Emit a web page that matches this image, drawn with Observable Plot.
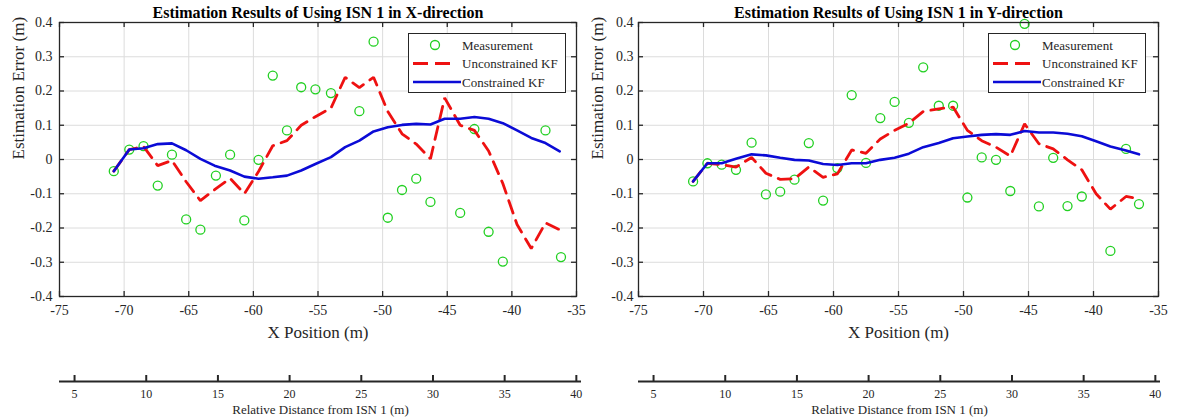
<!DOCTYPE html>
<html>
<head>
<meta charset="utf-8">
<script src="https://cdn.jsdelivr.net/npm/d3@7"></script>
<script src="https://cdn.jsdelivr.net/npm/@observablehq/plot@0.6"></script>
<style>
  html, body { margin: 0; padding: 0; background: #fff; }
  #root { position: relative; width: 1178px; height: 419px; overflow: hidden; font-family: "Liberation Serif", "Times New Roman", serif; }
  #root svg, #root svg text, #root svg g { font-family: "Liberation Serif", "Times New Roman", serif !important; }
  .panel { position: absolute; top: 0; width: 589px; height: 419px; }
  .panel svg { display: block; }
  .legend { position: absolute; }
</style>
</head>
<body>
<div id="root"></div>
<script>
// ---------- tick labels ----------
const xTicks = [-75, -70, -65, -60, -55, -50, -45, -40, -35];
const yTicks = [-0.4, -0.3, -0.2, -0.1, 0, 0.1, 0.2, 0.3, 0.4];
const distTicks = [5, 10, 15, 20, 25, 30, 35, 40];
const seriesNames = ["Measurement", "Unconstrained KF", "Constrained KF"];

// ---------- X-direction panel ----------
const measPosX = [-70.8, -69.6, -68.5, -67.4, -66.3, -65.2, -64.1, -62.9, -61.8, -60.7, -59.6, -58.5, -57.4, -56.3,
  -55.2, -54.0, -51.8, -50.7, -49.6, -48.5, -47.4, -46.3, -44.0, -42.9, -41.8, -40.7, -37.4, -36.2];
const measErrX = [-0.034, 0.029, 0.039, -0.076, 0.014, -0.175, -0.205, -0.047, 0.014, -0.178, -0.001, 0.245, 0.085, 0.211,
  0.205, 0.194, 0.141, 0.344, -0.170, -0.089, -0.056, -0.124, -0.156, 0.089, -0.211, -0.298, 0.085, -0.285];
const kfPosX = [-70.8, -69.6, -68.5, -67.4, -66.3, -65.2, -64.1, -63.0, -61.8, -60.7, -59.6, -58.5, -57.4, -56.3, -55.2, -54.0,
  -52.9, -51.8, -50.7, -49.6, -48.5, -47.4, -46.3, -45.2, -44.0, -42.9, -41.8, -40.7, -39.6, -38.5, -37.4, -36.3];
const uncErrX = [-0.034, 0.029, 0.038, -0.018, -0.003, -0.065, -0.12, -0.088, -0.055, -0.10, -0.035, 0.04, 0.055, 0.10, 0.125, 0.15,
  0.24, 0.21, 0.24, 0.14, 0.075, 0.045, 0.002, 0.18, 0.10, 0.085, 0.025, -0.07, -0.19, -0.26, -0.185, -0.205];
const conErrX = [-0.034, 0.029, 0.033, 0.045, 0.047, 0.027, 0.002, -0.018, -0.032, -0.050, -0.056, -0.052, -0.047, -0.032, -0.013, 0.007,
  0.036, 0.055, 0.082, 0.094, 0.101, 0.104, 0.102, 0.119, 0.119, 0.124, 0.119, 0.106, 0.085, 0.063, 0.048, 0.024];

// ---------- Y-direction panel ----------
const measPosY = [-70.8, -69.7, -68.6, -67.5, -66.3, -65.2, -64.1, -63.0, -61.9, -60.8, -59.7, -58.6, -57.5, -56.4, -55.3, -54.2,
  -53.1, -51.9, -50.8, -49.7, -48.6, -47.5, -46.4, -45.3, -44.2, -43.1, -42.0, -40.9, -38.7, -37.5, -36.5];
const measErrY = [-0.064, -0.011, -0.015, -0.030, 0.049, -0.102, -0.094, -0.059, 0.048, -0.120, -0.025, 0.188, -0.010, 0.121, 0.168, 0.107,
  0.269, 0.157, 0.157, -0.111, 0.006, -0.001, -0.092, 0.396, -0.137, 0.005, -0.136, -0.108, -0.267, 0.031, -0.130];
const kfPosY = [-70.8, -69.7, -68.6, -67.5, -66.3, -65.2, -64.1, -63.0, -61.9, -60.8, -59.7, -58.6, -57.5, -56.4, -55.3, -54.2,
  -53.1, -51.9, -50.8, -49.7, -48.6, -47.5, -46.4, -45.3, -44.2, -43.1, -42.0, -40.9, -39.8, -38.7, -37.5, -36.5];
const uncErrY = [-0.064, -0.011, -0.015, -0.022, 0.006, -0.04, -0.058, -0.056, -0.022, -0.052, -0.042, 0.028, 0.018, 0.06, 0.085, 0.106,
  0.14, 0.148, 0.153, 0.085, 0.055, 0.036, 0.01, 0.104, 0.046, 0.031, -0.001, -0.03, -0.10, -0.145, -0.108, -0.115];
const conErrY = [-0.064, -0.011, -0.011, 0.002, 0.015, 0.012, 0.005, -0.001, -0.003, -0.013, -0.016, -0.011, -0.011, -0.001, 0.005, 0.017,
  0.036, 0.048, 0.062, 0.067, 0.072, 0.074, 0.072, 0.083, 0.079, 0.079, 0.075, 0.068, 0.053, 0.038, 0.026, 0.015];

const titles = ["Estimation Results of Using ISN 1 in X-direction", "Estimation Results of Using ISN 1 in Y-direction"];
const xLabel = "X Position (m)";
const yLabel = "Estimation Error (m)";
const distLabel = "Relative Distance from ISN 1 (m)";
const distDomain = [3.95, 40.36];

const C = { green: "#22d022", red: "#ee1111", blue: "#0b0bd6", axis: "#262626", grid: "#dcdcdc" };
const FONT = "Liberation Serif";
const fmtY = d => d === 0 ? "0" : d.toFixed(1);

function makePanel(cfg) {
  const W = 589, H = 345, mTop = 22, mBottom = 49;
  const fw = W - cfg.mLeft - cfg.mRight, fh = H - mTop - mBottom;
  const meas = cfg.mPos.map((x, i) => ({x, y: cfg.mErr[i]}));
  const unc = cfg.kPos.map((x, i) => ({x, y: cfg.unc[i]}));
  const con = cfg.kPos.map((x, i) => ({x, y: cfg.con[i]}));

  const main = Plot.plot({
    width: W, height: H,
    marginLeft: cfg.mLeft, marginRight: cfg.mRight, marginTop: mTop, marginBottom: mBottom,
    style: { fontFamily: FONT, fontSize: "14px", color: C.axis, background: "transparent" },
    x: { domain: [-75, -35] },
    y: { domain: [-0.4, 0.4] },
    marks: [
      Plot.gridX(xTicks, { stroke: C.grid, strokeOpacity: 1, strokeWidth: 1 }),
      Plot.gridY(yTicks, { stroke: C.grid, strokeOpacity: 1, strokeWidth: 1 }),
      Plot.tickX(xTicks, { x: d => d, stroke: C.axis, strokeWidth: 1.3, insetTop: fh - 5 }),
      Plot.tickX(xTicks, { x: d => d, stroke: C.axis, strokeWidth: 1.3, insetBottom: fh - 5 }),
      Plot.tickY(yTicks, { y: d => d, stroke: C.axis, strokeWidth: 1.3, insetRight: fw - 5 }),
      Plot.tickY(yTicks, { y: d => d, stroke: C.axis, strokeWidth: 1.3, insetLeft: fw - 5 }),
      Plot.axisX(xTicks, { tickSize: 0, tickPadding: 9, label: null, tickFormat: d => String(d), fill: C.axis, fontSize: 14, fontFamily: FONT }),
      Plot.axisY(yTicks, { tickSize: 0, tickPadding: cfg.yPad, label: null, tickFormat: fmtY, fill: C.axis, fontSize: 14, fontFamily: FONT }),
      Plot.dot(meas, { x: "x", y: "y", r: 4.5, stroke: C.green, strokeWidth: 1.3, fill: "none" }),
      Plot.line(unc, { x: "x", y: "y", stroke: C.red, strokeWidth: 2.8, strokeDasharray: "13,8", strokeLinejoin: "miter" }),
      Plot.line(con, { x: "x", y: "y", stroke: C.blue, strokeWidth: 2.6 }),
      Plot.frame({ stroke: C.axis, strokeWidth: 1.3 }),
      Plot.text([cfg.title], { text: d => d, frameAnchor: "top", lineAnchor: "middle", dy: -10, fontWeight: "bold", fontSize: 16, fill: "#000", fontFamily: FONT }),
      Plot.text([xLabel], { text: d => d, frameAnchor: "bottom", lineAnchor: "middle", dy: 36, fontSize: 17, fill: C.axis, fontFamily: FONT }),
      Plot.text([yLabel], { text: d => d, frameAnchor: "left", lineAnchor: "middle", dx: -41, rotate: -90, fontSize: 17, fill: C.axis, fontFamily: FONT })
    ]
  });

  const sub = Plot.plot({
    width: W, height: 74,
    marginLeft: cfg.sLeft, marginRight: cfg.sRight, marginTop: 26, marginBottom: 38,
    style: { fontFamily: FONT, fontSize: "12px", color: C.axis, background: "transparent" },
    x: { domain: distDomain },
    y: { domain: [0, 1], axis: null },
    marks: [
      Plot.ruleY([0], { stroke: C.axis, strokeWidth: 2 }),
      Plot.tickX(distTicks, { x: d => d, stroke: C.axis, strokeWidth: 2, insetTop: 4 }),
      Plot.axisX(distTicks, { tickSize: 0, tickPadding: 8, label: null, fill: C.axis, fontSize: 12, fontFamily: FONT }),
      Plot.text([distLabel], { text: d => d, frameAnchor: "bottom", lineAnchor: "middle", dy: 28, fontSize: 13, fill: C.axis, fontFamily: FONT })
    ]
  });

  const div = document.createElement("div");
  div.className = "panel";
  div.style.left = cfg.left + "px";
  div.appendChild(main);
  div.appendChild(sub);

  // legend (inside the axes, upper right)
  const lg = d3.create("svg").attr("class", "legend").attr("width", 159).attr("height", 60)
    .style("left", cfg.legX + "px").style("top", "33px").style("font-family", FONT);
  lg.append("rect").attr("x", 0.5).attr("y", 0.5).attr("width", 157).attr("height", 59)
    .attr("fill", "#fff").attr("stroke", "#262626").attr("stroke-width", 1);
  lg.append("circle").attr("cx", 27).attr("cy", 12).attr("r", 4.5).attr("fill", "none").attr("stroke", C.green).attr("stroke-width", 1.3);
  lg.append("line").attr("x1", 5).attr("x2", 47).attr("y1", 30.5).attr("y2", 30.5).attr("stroke", C.red).attr("stroke-width", 2.8).attr("stroke-dasharray", "15,7");
  lg.append("line").attr("x1", 5).attr("x2", 53).attr("y1", 49).attr("y2", 49).attr("stroke", C.blue).attr("stroke-width", 2.6);
  [12, 30.5, 49].forEach((yy, i) => {
    lg.append("text").attr("x", 54).attr("y", yy).attr("dy", "0.35em").attr("font-size", 13).attr("fill", "#262626").text(seriesNames[i]);
  });
  div.appendChild(lg.node());
  document.getElementById("root").appendChild(div);
}

makePanel({ left: 0, mLeft: 59, mRight: 13, yPad: 7, sLeft: 59, sRight: 8, legX: 408, title: titles[0],
  mPos: measPosX, mErr: measErrX, kPos: kfPosX, unc: uncErrX, con: conErrX });
makePanel({ left: 589, mLeft: 49, mRight: 20, yPad: 5, sLeft: 49, sRight: 18, legX: 399, title: titles[1],
  mPos: measPosY, mErr: measErrY, kPos: kfPosY, unc: uncErrY, con: conErrY });
</script>
</body>
</html>
